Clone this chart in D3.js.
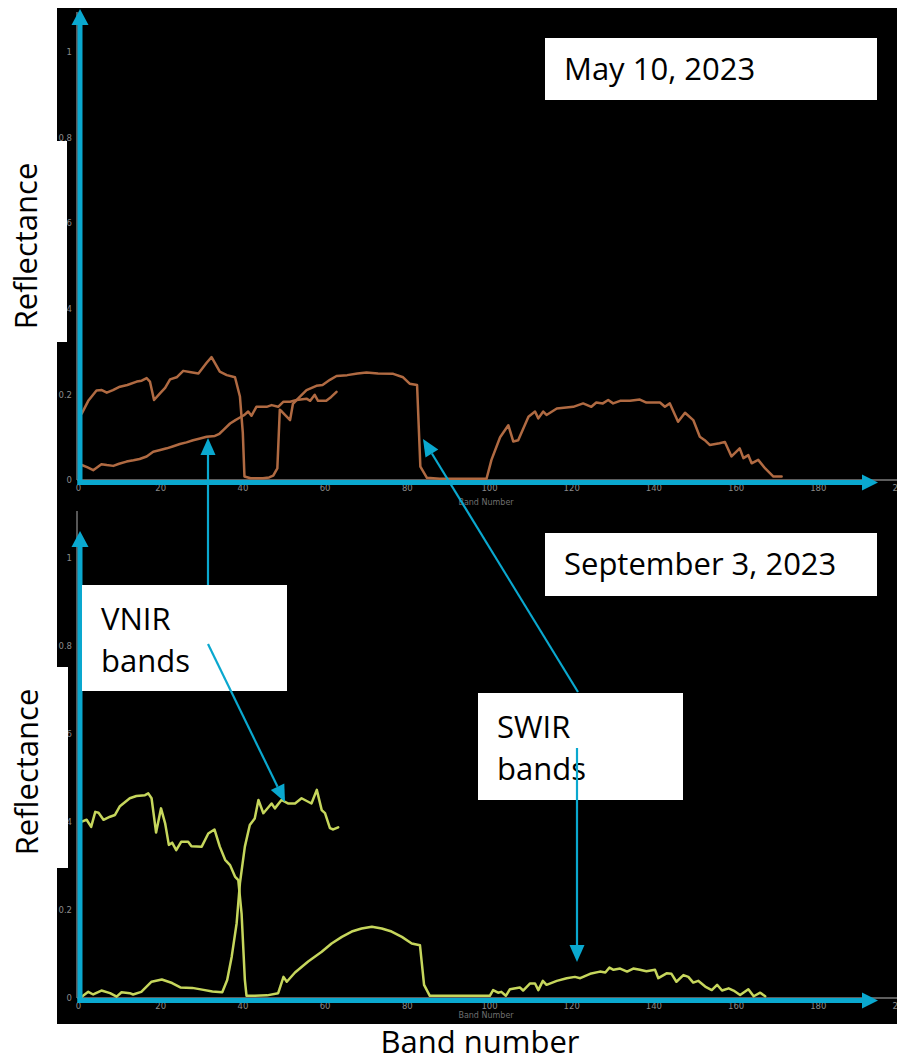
<!DOCTYPE html>
<html>
<head>
<meta charset="utf-8">
<script src="https://cdn.jsdelivr.net/npm/d3@7"></script>
<style>
  html, body { margin: 0; padding: 0; background: #fff; }
  svg { display: block; }
</style>
</head>
<body>
<svg id="fig" width="897" height="1058"></svg>
<script>
// ---- Axis ticks ----
const bandTicks = [0, 20, 40, 60, 80, 100, 120, 140, 160, 180, 200];
const reflTicks = [0, 0.2, 0.4, 0.6, 0.8, 1];

// ---- Spectra: [band number, reflectance] ----
// May 10, 2023 — VNIR cube
const mayVnir = [[0.9,0.035],[2.2,0.03],[3.7,0.023],[5.7,0.037],[7,0.035],[8.6,0.033],[10,0.038],[11.8,0.043],
  [13.5,0.046],[15,0.049],[16.7,0.055],[18.3,0.066],[20,0.07],[21.6,0.074],[23.2,0.079],[24.8,0.084],[26.4,0.088],
  [28,0.093],[29.7,0.097],[31.3,0.101],[33.3,0.103],[34.4,0.108],[35.4,0.117],[37,0.132],[38.3,0.14],[39.4,0.146],
  [40.5,0.152],[41.4,0.16],[42.2,0.15],[43.4,0.171],[45.9,0.171],[47.1,0.175],[48.7,0.171],[50,0.183],[51.6,0.183],
  [53.2,0.187],[55.6,0.19],[56.5,0.185],[57.6,0.199],[58.4,0.185],[60.4,0.185],[61.6,0.194],[62.9,0.206]];

// May 10, 2023 — SWIR cube
const maySwir = [[0.9,0.155],[2.5,0.185],[4.5,0.209],[5.8,0.21],[7,0.204],[8.5,0.21],[10.2,0.218],[12,0.222],
  [14.3,0.23],[15.5,0.232],[16.7,0.238],[17.5,0.23],[18.5,0.187],[20,0.203],[21.2,0.215],[22.4,0.235],[24,0.24],
  [25.6,0.255],[27.5,0.252],[29.3,0.249],[31.3,0.274],[32.5,0.287],[33.5,0.27],[34.5,0.253],[36.2,0.245],[38.2,0.24],
  [39.4,0.195],[40.1,0.11],[40.5,0.008],[42,0.004],[45,0.004],[46.5,0.006],[47.5,0.01],[48.5,0.027],[49.1,0.164],
  [49.6,0.16],[51.6,0.14],[52.3,0.178],[54,0.195],[55.6,0.21],[58,0.22],[59.5,0.222],[61.3,0.234],[62.9,0.243],
  [65.5,0.245],[68,0.249],[70.2,0.251],[73,0.249],[76.7,0.248],[79.1,0.24],[80.7,0.225],[82.5,0.222],[83.3,0.031],
  [84.9,0.005],[88,0.003],[95,0.003],[99.4,0.003],[100.6,0.047],[102.7,0.1],[104.7,0.128],[105.9,0.09],[107.1,0.093],
  [109.6,0.148],[111.2,0.16],[112,0.144],[113.2,0.16],[114,0.152],[116.5,0.167],[120.5,0.171],[122.9,0.179],
  [124.9,0.171],[126.1,0.181],[127.7,0.179],[129,0.187],[130.2,0.179],[131.9,0.185],[134.3,0.185],[136.7,0.188],
  [138.3,0.181],[141.6,0.181],[142.8,0.171],[144,0.179],[146,0.136],[147.7,0.157],[149.7,0.14],[151.3,0.101],
  [152.5,0.093],[153.7,0.082],[156.1,0.086],[157.4,0.089],[159,0.055],[161,0.074],[161.9,0.051],[163.1,0.058],
  [163.9,0.039],[165.5,0.047],[167.2,0.027],[169.2,0.008],[171.2,0.008]];

// September 3, 2023 — VNIR cube
const sepVnir = [[0.9,0.003],[2.5,0.014],[3.7,0.008],[5.7,0.017],[7.8,0.011],[9.4,0.003],[10.6,0.013],[12.6,0.011],
  [13.4,0.008],[15.4,0.014],[17.9,0.037],[20.4,0.042],[22.9,0.034],[24.9,0.024],[27.8,0.023],[30.2,0.019],
  [32.7,0.015],[35.1,0.013],[36.3,0.041],[37.4,0.094],[38.6,0.17],[39.4,0.261],[40.6,0.344],[41.8,0.393],
  [43,0.408],[43.9,0.45],[45.1,0.42],[47.1,0.442],[47.9,0.431],[49.5,0.45],[51.2,0.442],[52.8,0.442],[54.4,0.454],
  [56.8,0.442],[58.1,0.473],[59.3,0.427],[60.1,0.42],[61.3,0.386],[62.1,0.383],[63.3,0.388]];

// September 3, 2023 — SWIR cube
const sepSwir = [[0.9,0.401],[2.1,0.405],[3.2,0.389],[4.2,0.423],[5,0.421],[6.2,0.405],[7.8,0.412],[9,0.416],
  [10.2,0.436],[12.6,0.454],[14.2,0.459],[16.3,0.461],[17.1,0.465],[17.9,0.454],[19,0.376],[20.2,0.431],
  [21.2,0.397],[22.1,0.348],[22.9,0.353],[23.9,0.336],[25.1,0.355],[26.8,0.355],[27.6,0.345],[30.1,0.344],
  [31.7,0.374],[33.2,0.383],[34.5,0.344],[35.8,0.314],[37,0.302],[38.2,0.276],[39,0.268],[39.8,0.192],
  [40.6,0.041],[41,0.005],[43,0.005],[46,0.006],[48.7,0.011],[50,0.048],[50.8,0.037],[52.8,0.058],[56,0.083],
  [59.3,0.105],[61.7,0.124],[64.2,0.139],[66.6,0.151],[69,0.158],[71.5,0.162],[73.9,0.158],[76.3,0.151],
  [78.8,0.139],[81.2,0.124],[83.2,0.12],[84.2,0.03],[85.6,0.005],[90,0.005],[95,0.005],[100.2,0.005],[101,0.018],
  [102.2,0.012],[103,0.014],[104.1,0.005],[105.1,0.02],[107.5,0.024],[108.3,0.017],[110,0.033],[111.2,0.033],
  [112,0.018],[113.1,0.039],[114,0.03],[116.5,0.039],[118.9,0.045],[120.9,0.048],[122.2,0.045],[124.6,0.055],
  [127,0.06],[128.3,0.058],[129.3,0.069],[130.3,0.064],[131.9,0.067],[133.6,0.06],[135.1,0.067],[136.7,0.064],
  [138.3,0.061],[140.4,0.064],[141.2,0.045],[143.2,0.056],[144.4,0.055],[145.6,0.037],[147.3,0.052],[148.5,0.048],
  [149.7,0.035],[150.9,0.039],[152.6,0.026],[154.2,0.018],[155.5,0.03],[156.7,0.017],[158.3,0.022],[159.5,0.017],
  [161.1,0.007],[163.1,0.02],[164.4,0.004],[166,0.012],[167.2,0.004]];

// ---- Drawing ----
const svg = d3.select("#fig");
const CYAN = "#0aa8cf";
const AXIS_GREY = "#7d7d7d";

const x = d3.scaleLinear().domain([0, 200]).range([78, 900]);

const panels = [
  { name: "may", series: [mayVnir, maySwir], color: "#b06a42",
    y: d3.scaleLinear().domain([0, 1]).range([480, 52]), greyTop: 12, cyanTop: 9, titleDy: 25 },
  { name: "sep", series: [sepVnir, sepSwir], color: "#c6d65c",
    y: d3.scaleLinear().domain([0, 1]).range([998, 558]), greyTop: 511, cyanTop: 531, titleDy: 20 }
];

// dark plotting background
svg.append("rect").attr("x", 57).attr("y", 8).attr("width", 840).attr("height", 1016).attr("fill", "#000");

const fmt = d => String(+d.toFixed(1));

panels.forEach(p => {
  const g = svg.append("g").attr("class", "panel-" + p.name);
  const y0 = p.y(0);

  // plain grey axes underneath the highlighted ones
  g.append("line").attr("x1", 77).attr("x2", 77).attr("y1", y0).attr("y2", p.greyTop)
    .attr("stroke", AXIS_GREY).attr("stroke-width", 1.4);
  g.append("line").attr("x1", 77).attr("x2", 897).attr("y1", y0).attr("y2", y0)
    .attr("stroke", AXIS_GREY).attr("stroke-width", 1.4);

  const yAxis = d3.axisLeft(p.y).tickValues(reflTicks).tickSize(0).tickPadding(5).tickFormat(fmt);
  const yg = g.append("g").attr("transform", "translate(77,0)").call(yAxis);
  const xAxis = d3.axisBottom(x).tickValues(bandTicks).tickSize(0).tickPadding(5).tickFormat(d3.format("d"));
  const xg = g.append("g").attr("transform", `translate(0,${y0})`).call(xAxis);
  [yg, xg].forEach(ax => {
    ax.select(".domain").remove();
    ax.selectAll("text").attr("fill", "#8a8a8a").attr("font-size", 8.5)
      .attr("font-family", "DejaVu Sans, sans-serif");
  });

  g.append("text").attr("x", 486).attr("y", y0 + p.titleDy).attr("text-anchor", "middle")
    .attr("fill", "#6f6f6f").attr("font-size", 8).attr("font-family", "DejaVu Sans, sans-serif")
    .text("Band Number");

  // spectra
  const line = d3.line().x(d => x(d[0])).y(d => p.y(d[1]));
  p.series.forEach(s => {
    g.append("path").datum(s).attr("d", line).attr("fill", "none")
      .attr("stroke", p.color).attr("stroke-width", 2.5)
      .attr("stroke-linejoin", "round").attr("stroke-linecap", "round");
  });

  // highlighted axes with arrow heads
  const cy = y0 + 2.5;
  g.append("line").attr("x1", 80).attr("x2", 80).attr("y1", cy + 2.5).attr("y2", p.cyanTop + 14)
    .attr("stroke", CYAN).attr("stroke-width", 5);
  g.append("path").attr("fill", CYAN)
    .attr("d", `M80,${p.cyanTop} L71.5,${p.cyanTop + 16} L88.5,${p.cyanTop + 16} Z`);
  g.append("line").attr("x1", 77.5).attr("x2", 864).attr("y1", cy).attr("y2", cy)
    .attr("stroke", CYAN).attr("stroke-width", 5);
  g.append("path").attr("fill", CYAN)
    .attr("d", `M878,${cy} L862,${cy - 8} L862,${cy + 8} Z`);
});

// white label strips over the left edge
svg.append("rect").attr("x", 0).attr("y", 141).attr("width", 67).attr("height", 201).attr("fill", "#fff");
svg.append("rect").attr("x", 0).attr("y", 667).attr("width", 68).attr("height", 201).attr("fill", "#fff");

const FONT = "Open Sans, Noto Sans, sans-serif";
function label(txt, tx, ty, rot) {
  svg.append("text").attr("transform", `translate(${tx},${ty}) rotate(${rot || 0})`)
    .attr("text-anchor", "middle").attr("font-family", FONT).attr("font-size", 31)
    .attr("fill", "#000").text(txt);
}
label("Reflectance", 37, 246, -90);
label("Reflectance", 38, 772, -90);
label("Band number", 480, 1053);

// callout boxes
function box(x0, y0, w, h, lines, dy) {
  svg.append("rect").attr("x", x0).attr("y", y0).attr("width", w).attr("height", h).attr("fill", "#fff");
  lines.forEach((t, i) => {
    svg.append("text").attr("x", x0 + 19).attr("y", y0 + dy + i * 42)
      .attr("font-family", FONT).attr("font-size", 31).attr("fill", "#000").text(t);
  });
}
box(545, 38, 332, 62, ["May 10, 2023"], 42);
box(545, 533, 332, 63, ["September 3, 2023"], 42);
box(82, 585, 205, 106, ["VNIR", "bands"], 45);
box(478, 693, 205, 107, ["SWIR", "bands"], 45);

// pointer arrows
function arrow(x1, y1, x2, y2) {
  const ang = Math.atan2(y2 - y1, x2 - x1);
  const L = 17, W = 7.5;
  const bx = x2 - L * Math.cos(ang), by = y2 - L * Math.sin(ang);
  svg.append("line").attr("x1", x1).attr("y1", y1).attr("x2", bx).attr("y2", by)
    .attr("stroke", CYAN).attr("stroke-width", 2.2);
  const px = -Math.sin(ang) * W, py = Math.cos(ang) * W;
  svg.append("path").attr("fill", CYAN)
    .attr("d", `M${x2},${y2} L${bx + px},${by + py} L${bx - px},${by - py} Z`);
}
arrow(208, 585, 208, 438);
arrow(208, 644, 285, 802);
arrow(578, 692, 423, 439);
arrow(577, 748, 577, 962);
</script>
</body>
</html>
